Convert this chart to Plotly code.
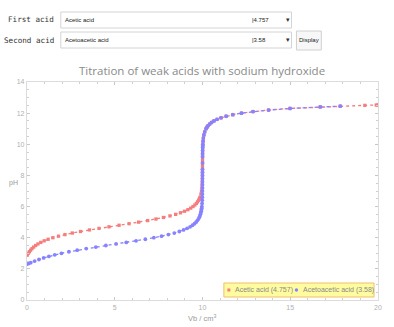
import plotly.graph_objects as go

# ---- data ----
acetic_vb = [0.0, 0.011, 0.071, 0.135, 0.205, 0.286, 0.380, 0.491, 0.624, 0.784, 0.977,
             1.205, 1.478, 1.796, 2.164, 2.582, 3.048, 3.559, 4.102, 4.671, 5.246,
             5.815, 6.363, 6.877, 7.349, 7.773, 8.146, 8.470, 8.744, 8.977, 9.169,
             9.329, 9.459, 9.565, 9.652, 9.720, 9.777, 9.820, 9.858, 9.910, 9.943,
             9.964, 9.977, 9.986, 9.991, 9.994, 9.997, 9.998, 9.999, 10.000, 10.001,
             10.003, 10.005, 10.008, 10.013, 10.020, 10.032, 10.050, 10.080, 10.127,
             10.202, 10.255, 10.322, 10.407, 10.515, 10.653, 10.829, 11.055, 11.347,
             11.726, 12.222, 12.880, 13.767, 14.985, 16.709, 17.849, 19.250, 19.901, 20.0]
acetic_ph = [2.88, 2.9, 3.0, 3.1, 3.2, 3.3, 3.4, 3.5, 3.6, 3.7, 3.8,
             3.9, 4.0, 4.1, 4.2, 4.3, 4.4, 4.5, 4.6, 4.7, 4.8,
             4.9, 5.0, 5.1, 5.2, 5.3, 5.4, 5.5, 5.6, 5.7, 5.8,
             5.9, 6.0, 6.1, 6.2, 6.3, 6.4, 6.5, 6.6, 6.8, 7.0,
             7.2, 7.4, 7.6, 7.8, 8.0, 8.2, 8.4, 8.6, 8.8, 9.0,
             9.2, 9.4, 9.6, 9.8, 10.0, 10.2, 10.4, 10.6, 10.8,
             11.0, 11.1, 11.2, 11.3, 11.4, 11.5, 11.6, 11.7, 11.8,
             11.9, 12.0, 12.1, 12.2, 12.3, 12.4, 12.45, 12.5, 12.52, 12.523]

aceto_vb = [0.0, 0.105, 0.213, 0.438, 0.680, 0.947, 1.245, 1.582, 1.963, 2.390, 2.861,
            3.375, 3.922, 4.495, 5.077, 5.655, 6.214, 6.742, 7.228, 7.666, 8.054,
            8.391, 8.678, 8.921, 9.125, 9.294, 9.431, 9.543, 9.633, 9.706, 9.766,
            9.812, 9.851, 9.881, 9.905, 9.924, 9.940, 9.952, 9.962, 9.976, 9.985,
            9.990, 9.994, 9.996, 9.998, 9.9985, 9.999, 9.9995, 10.000, 10.000, 10.000,
            10.001, 10.002, 10.003, 10.005, 10.008, 10.013, 10.020, 10.032, 10.050,
            10.080, 10.127, 10.202, 10.255, 10.322, 10.407, 10.515, 10.653, 10.829,
            11.055, 11.347, 11.726, 12.222, 12.880, 13.767, 14.985, 16.709, 17.849]
aceto_ph = [2.30, 2.35, 2.4, 2.5, 2.6, 2.7, 2.8, 2.9, 3.0, 3.1, 3.2,
            3.3, 3.4, 3.5, 3.6, 3.7, 3.8, 3.9, 4.0, 4.1, 4.2,
            4.3, 4.4, 4.5, 4.6, 4.7, 4.8, 4.9, 5.0, 5.1, 5.2,
            5.3, 5.4, 5.5, 5.6, 5.7, 5.8, 5.9, 6.0, 6.2, 6.4,
            6.6, 6.8, 7.0, 7.2, 7.4, 7.6, 7.8, 8.0, 8.2, 8.4,
            8.8, 9.2, 9.4, 9.6, 9.8, 9.9, 10.0, 10.2, 10.4,
            10.6, 10.8, 11.0, 11.1, 11.2, 11.3, 11.4, 11.5, 11.6,
            11.7, 11.8, 11.9, 12.0, 12.1, 12.2, 12.3, 12.4, 12.45]

series_names = ["Acetic acid (4.757)", "Acetoacetic acid (3.58)"]
acid1_name, acid1_pka = "Acetic acid", "4.757"
acid2_name, acid2_pka = "Acetoacetic acid", "3.58"
title_text = "Titration of weak acids with sodium hydroxide"

RED = "rgb(245,125,125)"
BLUE = "rgb(135,130,255)"

W, H = 394, 327
L, R, T, B = 27, 380, 82, 300


def px(x):
    return (x - L) / (R - L)


def py(y):
    return (B - y) / (B - T)


fig = go.Figure()
fig.add_trace(go.Scatter(x=acetic_vb, y=acetic_ph, mode="lines+markers",
                         line=dict(color=RED, width=1.3, dash="dot"),
                         marker=dict(color=RED, size=3.3, symbol="square"),
                         showlegend=False, hoverinfo="skip"))
fig.add_trace(go.Scatter(x=aceto_vb, y=aceto_ph, mode="lines+markers",
                         line=dict(color=BLUE, width=1.3, dash="dot"),
                         marker=dict(color=BLUE, size=3.8, symbol="circle"),
                         showlegend=False, hoverinfo="skip"))

shapes = []
ann = []
grey_txt = "#9a9a9a"

# UI controls (drawn)
for (y0, y1) in [(12, 28), (32, 48)]:
    shapes.append(dict(type="rect", xref="paper", yref="paper",
                       x0=px(61), x1=px(293), y0=py(y1), y1=py(y0),
                       line=dict(color="#d4d4d4", width=1), fillcolor="white", layer="above"))
shapes.append(dict(type="rect", xref="paper", yref="paper",
                   x0=px(298), x1=px(323), y0=py(50), y1=py(31),
                   line=dict(color="#d0d0d0", width=1), fillcolor="#f7f7f7", layer="above"))

labels = [("First acid", 20, acid1_name, acid1_pka), ("Second acid", 40, acid2_name, acid2_pka)]
for lab, yc, nm, pk in labels:
    ann.append(dict(text=lab, xref="paper", yref="paper", x=px(56), y=py(yc),
                    xanchor="right", yanchor="middle", showarrow=False,
                    font=dict(family="DejaVu Sans Mono", size=7.6, color="#333")))
    ann.append(dict(text=nm, xref="paper", yref="paper", x=px(63), y=py(yc),
                    xanchor="left", yanchor="middle", showarrow=False,
                    font=dict(family="Liberation Sans", size=6, color="#222")))
    ann.append(dict(text="|" + pk, xref="paper", yref="paper", x=px(251), y=py(yc),
                    xanchor="left", yanchor="middle", showarrow=False,
                    font=dict(family="Liberation Sans", size=6, color="#222")))
    ann.append(dict(text="▾", xref="paper", yref="paper", x=px(289), y=py(yc),
                    xanchor="center", yanchor="middle", showarrow=False,
                    font=dict(family="DejaVu Sans", size=7, color="#333")))
ann.append(dict(text="Display", xref="paper", yref="paper", x=px(310.5), y=py(40.5),
                xanchor="center", yanchor="middle", showarrow=False,
                font=dict(family="Liberation Sans", size=6, color="#222")))

# title
ann.append(dict(text=title_text, xref="paper", yref="paper", x=px(203), y=py(70),
                xanchor="center", yanchor="middle", showarrow=False,
                font=dict(family="Open Sans", size=11.5, color="#8a8a8a")))
# axis labels
ann.append(dict(text="pH", xref="paper", yref="paper", x=px(13), y=py(183),
                xanchor="center", yanchor="middle", showarrow=False,
                font=dict(family="Liberation Sans", size=7, color=grey_txt)))
ann.append(dict(text="Vb / cm<sup>3</sup>", xref="paper", yref="paper", x=px(203), y=py(318),
                xanchor="center", yanchor="middle", showarrow=False,
                font=dict(family="Liberation Sans", size=7.5, color=grey_txt)))

# legend box
shapes.append(dict(type="rect", xref="paper", yref="paper",
                   x0=px(225), x1=px(376), y0=py(297), y1=py(283),
                   line=dict(color="rgb(240,190,110)", width=1), fillcolor="rgb(255,252,160)",
                   layer="above"))
shapes.append(dict(type="rect", xref="paper", yref="paper",
                   x0=px(228.5), x1=px(231.5), y0=py(291.5), y1=py(288.5),
                   line=dict(width=0), fillcolor=RED, layer="above"))
shapes.append(dict(type="circle", xref="paper", yref="paper",
                   x0=px(296.3), x1=px(299.7), y0=py(291.7), y1=py(288.3),
                   line=dict(width=0), fillcolor=BLUE, layer="above"))
ann.append(dict(text=series_names[0], xref="paper", yref="paper", x=px(234.5), y=py(290),
                xanchor="left", yanchor="middle", showarrow=False,
                font=dict(family="Liberation Sans", size=7, color="#8a8a8a")))
ann.append(dict(text=series_names[1], xref="paper", yref="paper", x=px(302.5), y=py(290),
                xanchor="left", yanchor="middle", showarrow=False,
                font=dict(family="Liberation Sans", size=7, color="#8a8a8a")))

axis_common = dict(showgrid=False, zeroline=False, showline=True, linecolor="#dcdcdc",
                   linewidth=1.3, mirror="ticks", ticks="inside", ticklen=3,
                   tickcolor="#c8c8c8", tickwidth=1,
                   tickfont=dict(family="Liberation Sans", size=7, color="#b0b0b0"))

fig.update_layout(
    width=W, height=H,
    margin=dict(l=L, r=W - R, t=T, b=H - B),
    paper_bgcolor="white", plot_bgcolor="white",
    xaxis=dict(range=[0, 20], tickvals=[0, 5, 10, 15, 20],
               minor=dict(dtick=1, ticks="inside", ticklen=2, tickcolor="#d0d0d0"),
               **axis_common),
    yaxis=dict(range=[0, 14], tickvals=[0, 2, 4, 6, 8, 10, 12, 14],
               minor=dict(dtick=0.5, ticks="inside", ticklen=2, tickcolor="#d0d0d0"),
               **axis_common),
    shapes=shapes, annotations=ann,
)
fig.write_html("out.html")
